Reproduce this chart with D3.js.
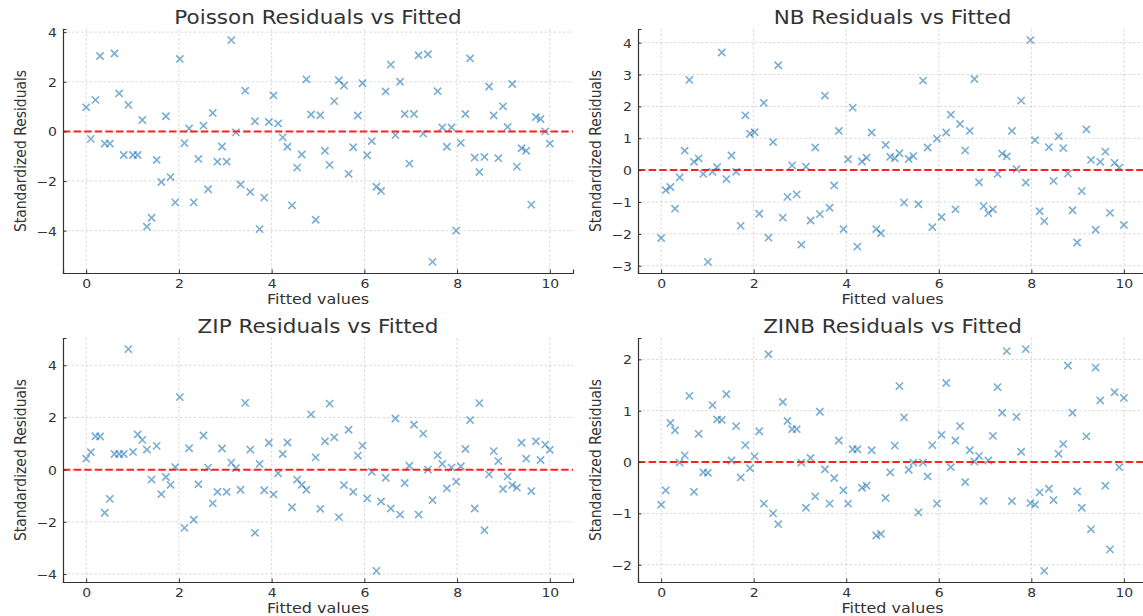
<!DOCTYPE html>
<html>
<head>
<meta charset="utf-8">
<script src="https://cdn.jsdelivr.net/npm/d3@7"></script>
<style>
  body { margin: 0; background: #fff; }
  svg { display: block; font-family: "DejaVu Sans", sans-serif; }
</style>
</head>
<body>
<script>
// fitted values (same for every model)
const fitted = [0.00,0.10,0.20,0.30,0.40,0.51,0.61,0.71,0.81,0.91,1.01,1.11,1.21,1.31,1.41,1.52,1.62,1.72,1.82,1.92,
  2.02,2.12,2.22,2.32,2.42,2.53,2.63,2.73,2.83,2.93,3.03,3.13,3.23,3.33,3.43,3.54,3.64,3.74,3.84,3.94,
  4.04,4.14,4.24,4.34,4.44,4.55,4.65,4.75,4.85,4.95,5.05,5.15,5.25,5.35,5.45,5.56,5.66,5.76,5.86,5.96,
  6.06,6.16,6.26,6.36,6.46,6.57,6.67,6.77,6.87,6.97,7.07,7.17,7.27,7.37,7.47,7.58,7.68,7.78,7.88,7.98,
  8.08,8.18,8.28,8.38,8.48,8.59,8.69,8.79,8.89,8.99,9.09,9.19,9.29,9.39,9.49,9.60,9.70,9.80,9.90,10.00];

const poissonResid = [0.97,-0.30,1.27,3.04,-0.49,-0.49,3.14,1.53,-0.95,1.07,-0.95,-0.95,0.46,-3.84,-3.48,-1.15,-2.04,0.61,-1.84,-2.86,
  2.92,-0.47,0.12,-2.86,-1.11,0.23,-2.33,0.74,-1.22,-0.61,-1.22,3.68,-0.04,-2.14,1.64,-2.44,0.41,-3.94,-2.67,0.38,
  1.45,0.32,-0.24,-0.62,-2.98,-1.46,-0.93,2.10,0.68,-3.56,0.65,-0.78,-1.35,1.22,2.06,1.85,-1.71,-0.64,0.64,1.94,
  -0.96,-0.39,-2.23,-2.40,1.61,2.69,-0.15,2.00,0.70,-1.30,0.70,3.07,-0.09,3.11,-5.26,1.62,0.16,-0.62,0.16,-4.00,
  -0.46,0.70,2.94,-1.06,-1.64,-1.03,1.81,0.64,-1.08,1.01,0.18,1.91,-1.42,-0.68,-0.78,-2.95,0.58,0.50,0.00,-0.49];

const nbResid = [-2.13,-0.63,-0.53,-1.21,-0.23,0.61,2.83,0.26,0.37,-0.12,-2.88,-0.05,0.09,3.69,-0.28,0.46,-0.05,-1.75,1.72,1.14,
  1.19,-1.37,2.11,-2.12,0.88,3.29,-1.49,-0.84,0.15,-0.76,-2.34,0.11,-1.58,0.71,-1.38,2.34,-1.18,-0.48,1.23,-1.85,
  0.34,1.96,-2.40,0.27,0.39,1.18,-1.85,-1.98,0.79,0.42,0.37,0.53,-1.02,0.35,0.44,-1.07,2.81,0.71,-1.79,0.99,
  -1.47,1.18,1.74,-1.23,1.45,0.62,1.23,2.86,-0.38,-1.13,-1.35,-1.23,-0.12,0.52,0.43,1.23,0.03,2.18,-0.39,4.08,
  0.94,-1.29,-1.60,0.72,-0.34,1.06,0.69,-0.11,-1.26,-2.27,-0.66,1.28,0.32,-1.87,0.26,0.58,-1.34,0.23,0.08,-1.72];

const zipResid = [0.42,0.67,1.28,1.27,-1.65,-1.12,0.60,0.60,0.60,4.62,0.68,1.35,1.14,0.77,-0.38,0.91,-0.94,-0.28,-0.58,0.10,
  2.78,-2.23,0.82,-1.92,-0.56,1.31,0.08,-1.29,-0.85,0.81,-0.85,0.27,0.06,-0.77,2.56,0.77,-2.42,0.22,-0.79,1.03,
  -0.95,-0.14,0.60,1.04,-1.44,-0.38,-0.58,-0.77,2.12,0.47,-1.50,1.09,2.53,1.24,-1.82,-0.59,1.53,-0.85,0.54,0.92,
  -1.10,-0.08,-3.88,-1.22,-0.31,-1.49,1.96,-1.72,-0.51,0.15,1.72,-1.72,1.38,0.00,-1.17,0.55,0.22,-0.72,0.08,-0.46,
  0.13,0.79,1.90,-1.49,2.55,-2.32,-0.18,0.71,0.33,-0.74,-0.26,-0.59,-0.69,1.03,0.42,-0.82,1.09,0.37,0.96,0.76];

const zinbResid = [-0.83,-0.55,0.76,0.62,-0.01,0.13,1.29,-0.58,0.55,-0.20,-0.21,1.11,0.83,0.82,1.32,0.03,0.70,-0.30,0.33,-0.12,
  0.11,0.60,-0.81,2.10,-1.00,-1.21,1.17,0.80,0.64,0.64,-0.01,-0.89,0.08,-0.67,0.98,-0.14,-0.81,-0.31,0.42,-0.55,
  -0.81,0.25,0.25,-0.50,-0.46,0.23,-1.43,-1.40,-0.70,-0.20,0.32,1.48,0.87,-0.15,-0.01,-0.98,-0.01,-0.28,0.33,-0.81,
  0.53,1.54,-0.10,0.42,0.70,-0.39,0.23,0.01,0.12,-0.76,0.03,0.51,1.46,0.96,2.16,-0.76,0.88,0.20,2.20,-0.80,
  -0.83,-0.59,-2.12,-0.52,-0.74,0.16,0.35,1.88,0.96,-0.57,-0.89,0.50,-1.31,1.84,1.20,-0.46,-1.70,1.36,-0.10,1.25];

const titles = ["Poisson Residuals vs Fitted", "NB Residuals vs Fitted", "ZIP Residuals vs Fitted", "ZINB Residuals vs Fitted"];
const xTicks = [0, 2, 4, 6, 8, 10];
const yTicksList = [[-4, -2, 0, 2, 4], [-3, -2, -1, 0, 1, 2, 3, 4], [-4, -2, 0, 2, 4], [-2, -1, 0, 1, 2]];
const residList = [poissonResid, nbResid, zipResid, zinbResid];

const W = 1143, H = 616;
const SQ = 0.87; // the source picture is a bit squashed vertically
const boxes = [
  {x0: 63, x1: 573, y0: 29, y1: 273},
  {x0: 638, x1: 1147, y0: 29, y1: 273},
  {x0: 63, x1: 573, y0: 338, y1: 582},
  {x0: 638, x1: 1147, y0: 338, y1: 582}
];

const svg = d3.select("body").append("svg").attr("width", W).attr("height", H);

// matplotlib-style 5% margin around data
function padded(ext) {
  const m = (ext[1] - ext[0]) * 0.05;
  return [ext[0] - m, ext[1] + m];
}

function label(g, x, y, txt, size, rot) {
  g.append("text")
    .attr("transform", `translate(${x},${y}) scale(1,${SQ})` + (rot ? " rotate(-90)" : ""))
    .attr("text-anchor", "middle").attr("fill", "#333")
    .style("font-size", size + "px").text(txt);
}

boxes.forEach((b, k) => {
  const resid = residList[k];
  const pts = fitted.map((f, i) => ({x: f, y: resid[i]}));
  const x = d3.scaleLinear().domain(padded(d3.extent(fitted))).range([b.x0, b.x1]);
  const y = d3.scaleLinear().domain(padded(d3.extent(resid))).range([b.y1, b.y0]);
  const g = svg.append("g");

  // grid
  g.append("g").selectAll("line").data(xTicks).join("line")
    .attr("x1", d => x(d)).attr("x2", d => x(d)).attr("y1", b.y0).attr("y2", b.y1)
    .attr("stroke", "#cfcfcf").attr("stroke-width", 0.8).attr("stroke-dasharray", "2.5,2");
  g.append("g").selectAll("line").data(yTicksList[k]).join("line")
    .attr("x1", b.x0).attr("x2", b.x1).attr("y1", d => y(d)).attr("y2", d => y(d))
    .attr("stroke", "#cfcfcf").attr("stroke-width", 0.8).attr("stroke-dasharray", "2.5,2");

  // markers
  const s = 3.6;
  g.append("g").selectAll("path").data(pts).join("path")
    .attr("d", d => `M${x(d.x) - s},${y(d.y) - s}L${x(d.x) + s},${y(d.y) + s}M${x(d.x) - s},${y(d.y) + s}L${x(d.x) + s},${y(d.y) - s}`)
    .attr("stroke", "#1f77b4").attr("stroke-opacity", 0.6).attr("stroke-width", 1.6).attr("fill", "none");

  // zero line
  g.append("line").attr("x1", b.x0).attr("x2", b.x1).attr("y1", y(0)).attr("y2", y(0))
    .attr("stroke", "#ff2020").attr("stroke-width", 2).attr("stroke-dasharray", "7.4,3.2");

  // axes
  const xa = g.append("g").attr("transform", `translate(0,${b.y1})`)
    .call(d3.axisBottom(x).tickValues(xTicks).tickSize(-3.5).tickFormat(d3.format("d")));
  xa.selectAll(".tick text").attr("y", null).attr("dy", null)
    .attr("transform", `translate(0,15) scale(1,${SQ})`);
  const ya = g.append("g").attr("transform", `translate(${b.x0},0)`)
    .call(d3.axisLeft(y).tickValues(yTicksList[k]).tickSize(-3.5)
      .tickFormat(d => d < 0 ? "\u2212" + Math.abs(d) : d));
  ya.selectAll(".tick text").attr("x", null).attr("dy", null)
    .attr("transform", `translate(-6,4.5) scale(1,${SQ})`);
  [xa, ya].forEach(a => {
    a.select(".domain").attr("stroke", "#333").attr("stroke-width", 1.2);
    a.selectAll(".tick line").attr("stroke", "#333");
    a.selectAll("text").attr("fill", "#333").style("font-size", "14px").style("font-family", "DejaVu Sans");
  });

  // labels
  label(g, (b.x0 + b.x1) / 2, b.y0 - 5, titles[k], 21.5, false);
  label(g, (b.x0 + b.x1) / 2, b.y1 + 30.5, "Fitted values", 16, false);
  label(g, b.x0 - 37, (b.y0 + b.y1) / 2, "Standardized Residuals", 16, true);
});
</script>
</body>
</html>
